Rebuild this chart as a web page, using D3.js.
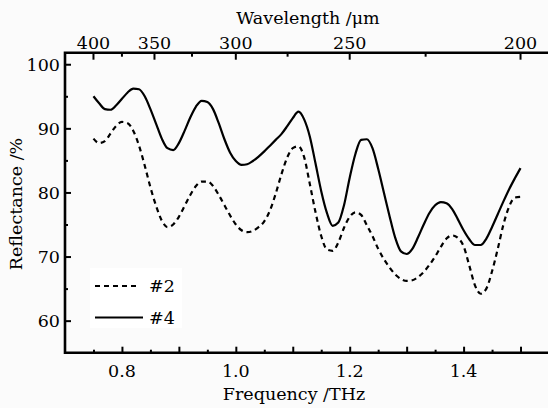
<!DOCTYPE html>
<html>
<head>
<meta charset="utf-8">
<script src="https://cdn.jsdelivr.net/npm/d3@7"></script>
<style>
  body { margin: 0; background: #fbfbfb; }
  svg { display: block; }
</style>
</head>
<body>
<svg width="548" height="408"></svg>
<script>
var width = 548,
  height = 408;

// frequency (THz)
var freq = [ 0.75, 0.76, 0.77, 0.78, 0.79, 0.80, 0.81, 0.82, 0.83, 0.84, 0.85, 0.86, 0.87, 0.88, 0.89,
  0.90, 0.91, 0.92, 0.93, 0.94, 0.95, 0.96, 0.97, 0.98, 0.99, 1.00, 1.01, 1.02, 1.03, 1.04, 1.05,
  1.06, 1.07, 1.08, 1.09, 1.10, 1.11, 1.12, 1.13, 1.14, 1.15, 1.16, 1.17, 1.18, 1.19, 1.20, 1.21,
  1.22, 1.23, 1.24, 1.25, 1.26, 1.27, 1.28, 1.29, 1.30, 1.31, 1.32, 1.33, 1.34, 1.35, 1.36, 1.37,
  1.38, 1.39, 1.40, 1.41, 1.42, 1.43, 1.44, 1.45, 1.46, 1.47, 1.48, 1.49, 1.50 ];

// reflectance (%) of sample #2 (dashed)
var refl2 = [ 88.4, 87.7, 88.0, 89.2, 90.4, 91.0, 90.8, 89.6, 87.3, 84.2, 80.8, 77.9, 75.6, 74.6, 75.0,
  76.2, 77.9, 79.6, 81.0, 81.7, 81.7, 81.0, 79.6, 78.0, 76.4, 75.0, 74.1, 73.8, 74.0, 74.6, 75.5,
  77.2, 79.8, 82.8, 85.4, 86.9, 87.2, 85.5, 81.3, 76.9, 73.2, 71.1, 70.9, 72.2, 74.5, 76.2, 76.9,
  76.5, 74.9, 73.2, 71.2, 69.6, 68.3, 67.2, 66.5, 66.2, 66.3, 66.8, 67.6, 68.7, 70.0, 71.5, 72.8,
  73.3, 72.9, 71.6, 68.6, 65.5, 64.2, 65.0, 67.7, 71.2, 75.0, 77.8, 79.2, 79.3 ];

// reflectance (%) of sample #4 (solid)
var refl4 = [ 95.0, 93.9, 93.0, 92.9, 93.6, 94.6, 95.6, 96.2, 96.1, 95.0, 93.0, 90.7, 88.4, 86.9, 86.6,
  87.7, 89.6, 91.7, 93.4, 94.3, 94.1, 93.0, 90.8, 88.3, 86.2, 84.9, 84.3, 84.4, 84.9, 85.6, 86.4,
  87.3, 88.2, 89.1, 90.3, 91.6, 92.6, 91.4, 88.7, 84.5, 80.2, 76.8, 74.8, 75.3, 78.0, 82.3, 86.0,
  88.2, 88.3, 86.9, 83.7, 80.0, 76.3, 72.9, 70.8, 70.4, 71.2, 73.0, 75.0, 76.8, 78.0, 78.5, 78.3,
  77.4, 75.8, 74.1, 72.7, 71.8, 71.8, 72.8, 74.6, 76.6, 78.6, 80.5, 82.2, 83.8 ];

var xTicks = [ 0.8, 1.0, 1.2, 1.4 ];
var yTicks = [ 60, 70, 80, 90, 100 ];
var waveTicks = [ 400, 350, 300, 250, 200 ];
var waveMinor = [ 375, 325, 275, 225 ];

var seriesNames = [ "#2", "#4" ];

var svg = d3.select( "svg" )
  .attr( "font-family", "'DejaVu Serif', 'Liberation Serif', serif" )
  .attr( "font-size", 17.5 );

var xScale = d3.scaleLinear()
  .domain( [ 0.7, 1.55 ] )
  .range( [ 65, 549 ] );

var yScale = d3.scaleLinear()
  .domain( [ 55, 101.8 ] )
  .range( [ 352.7, 52.7 ] );

// wavelength (um) -> frequency (THz)
var toFreq = w => 300 / w;

var plotTop = yScale.range()[ 1 ],
  plotBottom = yScale.range()[ 0 ],
  plotLeft = xScale.range()[ 0 ];

// bottom axis
var xAxis = d3.axisBottom( xScale )
  .tickValues( d3.range( 0.75, 1.551, 0.05 ) )
  .tickSize( 0 )
  .tickFormat( "" );

var gx = svg.append( "g" )
  .attr( "class", "x axis" )
  .attr( "transform", "translate(0," + plotBottom + ")" )
  .call( xAxis );
gx.select( ".domain" ).remove();

gx.selectAll( ".tick line" )
  .attr( "y2", ( d, i ) => ( i % 2 === 1 ? -6 : -3 ) )
  .attr( "stroke", "#000" )
  .attr( "stroke-width", 2 );

svg.selectAll( "text.xlabel" )
  .data( xTicks )
  .enter().append( "text" )
    .attr( "class", "xlabel" )
    .attr( "x", d => xScale( d ) )
    .attr( "y", 377 )
    .attr( "text-anchor", "middle" )
    .text( d => d.toFixed( 1 ) );

// left axis
var yAxis = d3.axisLeft( yScale )
  .tickValues( d3.range( 60, 101, 5 ) )
  .tickSize( 0 )
  .tickFormat( "" );

var gy = svg.append( "g" )
  .attr( "class", "y axis" )
  .attr( "transform", "translate(" + plotLeft + ",0)" )
  .call( yAxis );
gy.select( ".domain" ).remove();

gy.selectAll( ".tick line" )
  .attr( "x2", d => ( d % 10 === 0 ? 6 : 3 ) )
  .attr( "stroke", "#000" )
  .attr( "stroke-width", 2 );

svg.selectAll( "text.ylabel" )
  .data( yTicks )
  .enter().append( "text" )
    .attr( "class", "ylabel" )
    .attr( "x", 60 )
    .attr( "y", d => yScale( d ) )
    .attr( "dy", "0.36em" )
    .attr( "text-anchor", "end" )
    .text( d => d );

// top axis (wavelength)
var topTicks = waveTicks.concat( waveMinor );

svg.selectAll( "line.wtick" )
  .data( topTicks )
  .enter().append( "line" )
    .attr( "class", "wtick" )
    .attr( "x1", d => xScale( toFreq( d ) ) )
    .attr( "x2", d => xScale( toFreq( d ) ) )
    .attr( "y1", plotTop )
    .attr( "y2", d => plotTop + ( waveTicks.indexOf( d ) >= 0 ? 7 : 4 ) )
    .attr( "stroke", "#000" )
    .attr( "stroke-width", 2 );

svg.selectAll( "text.wlabel" )
  .data( waveTicks )
  .enter().append( "text" )
    .attr( "class", "wlabel" )
    .attr( "x", d => xScale( toFreq( d ) ) )
    .attr( "y", 49 )
    .attr( "text-anchor", "middle" )
    .text( d => d );

// frame
svg.append( "path" )
  .attr( "d", "M" + width + "," + plotTop + "H" + plotLeft + "V" + plotBottom + "H" + width )
  .attr( "fill", "none" )
  .attr( "stroke", "#000" )
  .attr( "stroke-width", 2.6 );

// axis titles
svg.append( "text" )
  .attr( "x", 294 )
  .attr( "y", 400 )
  .attr( "text-anchor", "middle" )
  .text( "Frequency /THz" );

svg.append( "text" )
  .attr( "x", 308 )
  .attr( "y", 24 )
  .attr( "text-anchor", "middle" )
  .text( "Wavelength /\u03bcm" );

svg.append( "text" )
  .attr( "transform", "translate(22,204) rotate(-90)" )
  .attr( "text-anchor", "middle" )
  .text( "Reflectance /%" );

// curves
var line = d3.line()
  .x( d => xScale( d[ 0 ] ) )
  .y( d => yScale( d[ 1 ] ) )
  .curve( d3.curveMonotoneX );

var series = [
  { name: seriesNames[ 0 ], values: d3.zip( freq, refl2 ), dash: "5,4" },
  { name: seriesNames[ 1 ], values: d3.zip( freq, refl4 ), dash: null }
];

svg.selectAll( "path.curve" )
  .data( series )
  .enter().append( "path" )
    .attr( "class", "curve" )
    .attr( "d", d => line( d.values ) )
    .attr( "fill", "none" )
    .attr( "stroke", "#000" )
    .attr( "stroke-width", 2.2 )
    .attr( "stroke-dasharray", d => d.dash );

// legend
svg.append( "rect" )
  .attr( "x", 90 )
  .attr( "y", 268 )
  .attr( "width", 92 )
  .attr( "height", 60 )
  .attr( "fill", "#fff" );

var legend = svg.selectAll( "g.legend" )
  .data( series )
  .enter().append( "g" )
    .attr( "class", "legend" )
    .attr( "transform", ( d, i ) => "translate(95," + ( 286 + i * 31.5 ) + ")" );

legend.append( "line" )
  .attr( "x1", 0 )
  .attr( "x2", d => ( d.dash ? 45 : 48 ) )
  .attr( "stroke", "#000" )
  .attr( "stroke-width", 2.2 )
  .attr( "stroke-dasharray", d => d.dash );

legend.append( "text" )
  .attr( "x", 54 )
  .attr( "dy", "0.36em" )
  .text( d => d.name );
</script>
</body>
</html>
